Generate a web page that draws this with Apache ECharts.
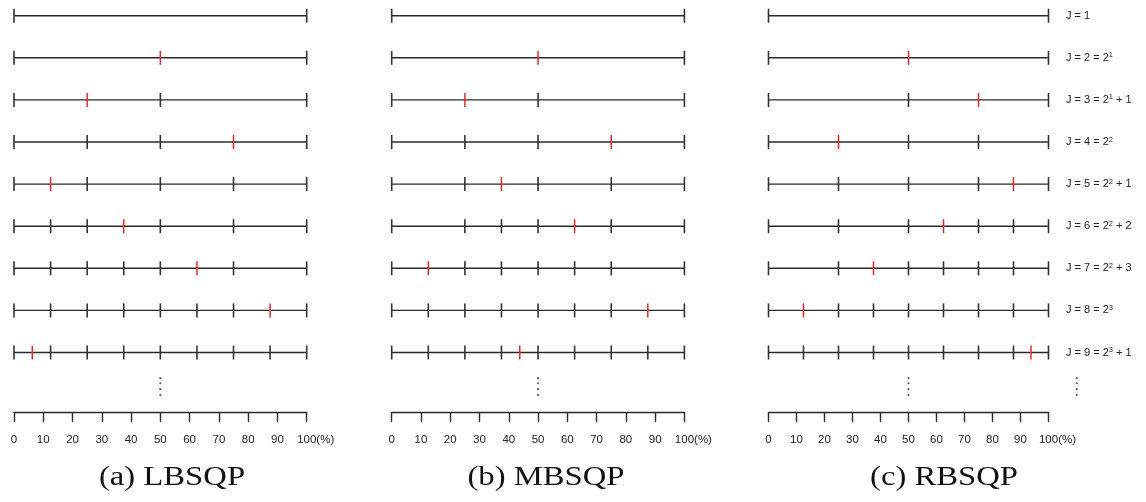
<!DOCTYPE html>
<html><head><meta charset="utf-8">
<script src="https://cdn.jsdelivr.net/npm/echarts@6/dist/echarts.min.js"></script>
<style>html,body{margin:0;padding:0;background:#fff}#c{width:1146px;height:502px}</style>
</head><body><div id="c"></div>
<script>
// ---- data ----
const rowsJ = [1, 2, 3, 4, 5, 6, 7, 8, 9];
// new (red) query point added at each J (J=1 has none)
const lbsqpNew = [null, 50, 25, 75, 12.5, 37.5, 62.5, 87.5, 6.25];
const mbsqpNew = [null, 50, 25, 75, 37.5, 62.5, 12.5, 87.5, 43.75];
const rbsqpNew = [null, 50, 75, 25, 87.5, 62.5, 37.5, 12.5, 93.75];
const endpoints = [0, 100];
const xTickLabels = ['0', '10', '20', '30', '40', '50', '60', '70', '80', '90', '100'];
const rowLabels = ['J = 1', 'J = 2 = 2{sup|1}', 'J = 3 = 2{sup|1} + 1', 'J = 4 = 2{sup|2}',
  'J = 5 = 2{sup|2} + 1', 'J = 6 = 2{sup|2} + 2', 'J = 7 = 2{sup|2} + 3', 'J = 8 = 2{sup|3}', 'J = 9 = 2{sup|3} + 1'];
const panelTitles = ['(a) LBSQP', '(b) MBSQP', '(c) RBSQP'];
const ellipsisJ = [9.61, 9.73, 9.87, 10.01];
const ellipsisX = 50;
const ellipsisRightX = 110.1;

// ---- layout ----
const panels = [
  { left: 14, width: 292.7, data: lbsqpNew, titleX: 172 },
  { left: 391.7, width: 292.7, data: mbsqpNew, titleX: 546 },
  { left: 768.5, width: 280, data: rbsqpNew, titleX: 944 }
];
const TOP = 15.7, HEIGHT = 396.3;
const FONT = "'Liberation Sans', Arial, sans-serif";
const LINE = '#2a2a2a';

function makeRender(newArr) {
  return function (params, api) {
    const j = api.value(0);
    const i = params.dataIndex;
    const p0 = api.coord([0, j]);
    const p1 = api.coord([100, j]);
    const y = p0[1];
    const children = [{ type: 'line', shape: { x1: p0[0], y1: y, x2: p1[0], y2: y },
      style: { stroke: LINE, lineWidth: 1.4 } }];
    const blacks = endpoints.concat(newArr.slice(1, i).filter(v => v != null));
    blacks.forEach(v => {
      const x = api.coord([v, j])[0];
      children.push({ type: 'line', shape: { x1: x, y1: y - 7, x2: x, y2: y + 7 },
        style: { stroke: '#333', lineWidth: 1.6 } });
    });
    const nv = api.value(1);
    if (nv != null && !isNaN(nv)) {
      const x = api.coord([nv, j])[0];
      children.push({ type: 'line', shape: { x1: x, y1: y - 7, x2: x, y2: y + 7 },
        style: { stroke: '#ff2020', lineWidth: 1.5 } });
    }
    return { type: 'group', children };
  };
}

const grid = [], xAxis = [], yAxis = [], series = [], graphic = [];
panels.forEach((p, k) => {
  grid.push({ left: p.left, width: p.width, top: TOP, height: HEIGHT });
  xAxis.push({
    gridIndex: k, type: 'value', min: 0, max: 100, interval: 10,
    axisLine: { lineStyle: { color: LINE, width: 1.4 } },
    axisTick: { length: 10, lineStyle: { color: LINE, width: 1.4 } },
    splitLine: { show: false },
    axisLabel: {
      margin: 22, fontFamily: FONT, fontSize: 11.5, color: '#222',
      formatter: v => { const s = xTickLabels[Math.round(v / 10)]; return v === 100 ? '{pad|}' + s + '{pct|(%)}' : s; },
      rich: { pad: { width: 18 }, pct: { fontFamily: FONT, fontSize: 11.5, color: '#222' } }
    }
  });
  yAxis.push({
    gridIndex: k, type: 'value', inverse: true, min: 1, max: 10.413, interval: 1,
    position: 'right',
    axisLine: { show: false }, axisTick: { show: false }, splitLine: { show: false },
    axisLabel: {
      show: k === 2, margin: 17.5, align: 'left', fontFamily: FONT, fontSize: 11, color: '#222',
      formatter: v => rowLabels[Math.round(v) - 1] || '',
      rich: { sup: { fontFamily: FONT, fontSize: 7.5, color: '#222', verticalAlign: 'top', padding: [0, 0, 5, 0] } }
    }
  });
  series.push({
    type: 'custom', xAxisIndex: k, yAxisIndex: k,
    data: rowsJ.map((j, i) => [j, p.data[i] == null ? NaN : p.data[i]]),
    renderItem: makeRender(p.data), silent: true
  });
  const dots = ellipsisJ.map(j => [ellipsisX, j]);
  if (k === 2) ellipsisJ.forEach(j => dots.push([ellipsisRightX, j]));
  series.push({
    type: 'scatter', xAxisIndex: k, yAxisIndex: k, data: dots, clip: false,
    symbol: 'circle', symbolSize: 2.2, itemStyle: { color: '#333' }, silent: true
  });
  graphic.push({ type: 'text', x: p.titleX, y: 478, scaleX: 1.21,
    style: { text: panelTitles[k], fill: '#111', font: "27px 'Liberation Serif', 'DejaVu Serif', serif",
      textAlign: 'center', textVerticalAlign: 'middle' } });
});

const chart = echarts.init(document.getElementById('c'), null, { renderer: 'canvas' });
chart.setOption({ animation: false, backgroundColor: '#fff', grid, xAxis, yAxis, series, graphic });
</script></body></html>
